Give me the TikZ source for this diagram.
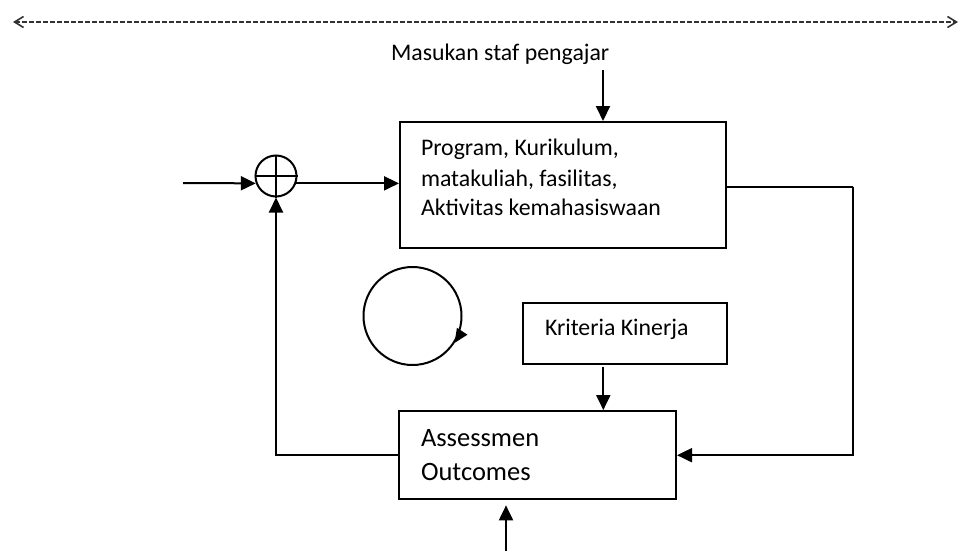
\documentclass[tikz,border=0pt]{standalone}
\usepackage{fontspec}
\setmainfont{Carlito}
\usetikzlibrary{arrows.meta}
\begin{document}
\begin{tikzpicture}[x=1pt,y=1pt,
  line width=2pt,
  tri/.style={-{Triangle[length=15pt,width=14pt]}},
  boxn/.style={draw, rectangle, inner sep=0pt},
  txt/.style={inner sep=0pt, anchor=base west, font=\fontsize{23.8}{30}\selectfont},
  bigtxt/.style={inner sep=0pt, anchor=base west, font=\fontsize{26.5}{33}\selectfont},
  topline/.style={line width=1.5pt, draw=black!80, dash pattern=on 5pt off 2pt,
     {Straight Barb[length=9pt,width=11pt,line width=1.6pt]}-{Straight Barb[length=9pt,width=11pt,line width=1.6pt]}}]
\useasboundingbox (0,0) rectangle (965,-551);

% top dashed line
\coordinate (tl) at (13,-22);
\coordinate (tr) at (958,-22);
\draw[topline] (tl) -- (tr);

% texts and boxes
\node[txt] (masukan) at (390,-60) {Masukan staf pengajar};

\node[boxn, minimum width=326pt, minimum height=126pt] (prog) at (563,-185) {};
\node[txt] (prog1) at (420,-155) {Program, Kurikulum,};
\node[txt] (prog2) at (420,-186) {matakuliah, fasilitas,};
\node[txt] (prog3) at (420,-215) {Aktivitas kemahasiswaan};

\node[boxn, minimum width=204pt, minimum height=61.5pt] (krit) at (624.7,-333.3) {};
\node[txt] (krittext) at (544,-335) {Kriteria Kinerja};

\node[boxn, minimum width=277pt, minimum height=88.3pt] (assess) at (537.5,-455.2) {};
\node[bigtxt] (as1) at (420,-446.7) {Assessmen};
\node[bigtxt] (as2) at (420,-480) {Outcomes};

% summing junction
\node[draw, circle, minimum size=41pt, inner sep=0pt] (plus) at (276,-176) {};
\draw (plus.north) -- (plus.south);
\draw (plus.west) -- (plus.east);

% loop circle
\node[draw, circle, minimum size=98pt, inner sep=0pt] (loop) at (412.5,-316) {};
\draw[-{Triangle[length=14pt,width=12pt]}] (loop.-18) arc[start angle=-18, end angle=-33, radius=49pt];

% connectors
\coordinate (in0) at (183,-183);
\draw[tri] (in0) -- (plus.200);
\draw[tri] (plus.-20) -- (plus.-20 -| prog.west);

\coordinate (mtop) at (603,-70);
\draw[tri] (mtop) -- (mtop |- prog.north);

\coordinate (rx) at (853,-186.7);
\draw (prog.east |- rx) -- (rx);
\draw[tri] (rx) |- (assess.east);

\draw[tri] (assess.west) -| (plus.south);

\coordinate (kx) at (603.3,-366.7);
\draw[tri] (kx) -- (kx |- assess.north);

\coordinate (bin) at (506,-551);
\draw[tri, shorten >=5pt] (bin) -- (bin |- assess.south);
\end{tikzpicture}
\end{document}
